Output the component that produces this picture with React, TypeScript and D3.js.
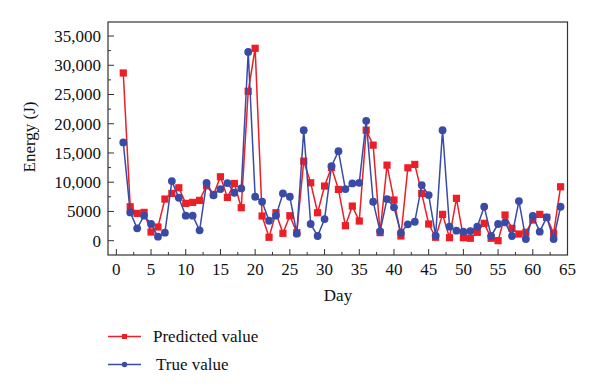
import React from 'react';
import * as d3 from 'd3';

const days = d3.range(1, 65);

const predicted = [
  28680, 5800, 4670, 4840, 1480, 2340, 7120, 8080, 9050, 6380,
  6550, 6890, 9390, 7900, 10930, 7400, 9790, 5640, 25550, 32900,
  4220, 580, 4780, 1260, 4270, 1370, 13600, 9900, 4780, 9340,
  12530, 8770, 2560, 5920, 3360, 18900, 16340, 1370, 12920, 6950,
  800, 12460, 13040, 8090, 2850, 580, 4500, 510, 7240, 510,
  410, 1430, 2970, 410, 0, 4390, 2110, 1140, 1430, 3530,
  4500, 3990, 1260, 9220,
];

const trueValue = [
  16800, 4840, 2110, 4270, 2850, 680, 1370, 10190, 7340, 4270,
  4270, 1770, 9900, 7750, 8830, 9850, 8200, 8940, 32270, 7510,
  6660, 3410, 4270, 8080, 7510, 1200, 18900, 2850, 800, 3700,
  12750, 15310, 8830, 9790, 9900, 20490, 6660, 1600, 7120, 5700,
  1370, 2800, 3240, 9510, 7800, 850, 18900, 2390, 1710, 1540,
  1650, 2390, 5800, 800, 2850, 3140, 800, 6780, 290, 4220,
  1540, 3990, 290, 5800,
];

const xTicks = d3.range(0, 66, 5);
const xMinor = d3.range(2.5, 65, 5);
const yTicks = d3.range(0, 35001, 5000);
const yMinor = d3.range(2500, 37000, 5000);

const RED = '#EC1E26';
const BLUE = '#3A4BA6';
const FONT = '"Liberation Serif", "Times New Roman", serif';

const App = () => {
  const width = 600;
  const height = 392;
  const left = 108, right = 567.5, top = 22, bottom = 255;

  const x = d3.scaleLinear().domain([-1.2, 65]).range([left, right]);
  const y = d3.scaleLinear().domain([-2450, 37400]).range([bottom, top]);

  const line = d3.line<number>()
    .x((_, i) => x(days[i]))
    .y(d => y(d));

  // 5000 is printed without a comma in the original
  const fmt = (v: number) => (v >= 10000 ? d3.format(',')(v) : String(v));

  return (
    <div style={{ position: 'absolute', left: 0, top: 0 }}>
      <svg width={width} height={height} style={{ display: 'block', background: '#fff' }}>
        {/* series: predicted first, true on top */}
        <path d={line(predicted) ?? ''} fill="none" stroke={RED} strokeWidth={1.5} />
        {predicted.map((v, i) => (
          <rect key={'p' + i} x={x(days[i]) - 3.6} y={y(v) - 3.6} width={7.2} height={7.2} fill={RED} />
        ))}
        <path d={line(trueValue) ?? ''} fill="none" stroke={BLUE} strokeWidth={1.5} />
        {trueValue.map((v, i) => (
          <circle key={'t' + i} cx={x(days[i])} cy={y(v)} r={3.9} fill={BLUE} />
        ))}

        {/* frame */}
        <rect x={left} y={top} width={right - left} height={bottom - top} fill="none" stroke="#333" strokeWidth={1.2} />

        {/* y axis */}
        {yTicks.map(t => (
          <g key={'y' + t}>
            <line x1={left} x2={left + 6} y1={y(t)} y2={y(t)} stroke="#333" strokeWidth={1} />
            <text x={left - 7} y={y(t)} dy="0.35em" textAnchor="end" fontFamily={FONT} fontSize={17} fill="#111">
              {fmt(t)}
            </text>
          </g>
        ))}
        {yMinor.map(t => (
          <line key={'ym' + t} x1={left} x2={left + 3} y1={y(t)} y2={y(t)} stroke="#333" strokeWidth={1} />
        ))}

        {/* x axis */}
        {xTicks.map(t => (
          <g key={'x' + t}>
            <line x1={x(t)} x2={x(t)} y1={bottom} y2={bottom - 6} stroke="#333" strokeWidth={1} />
            <text x={x(t)} y={275} textAnchor="middle" fontFamily={FONT} fontSize={17} fill="#111">
              {t}
            </text>
          </g>
        ))}
        {xMinor.map(t => (
          <line key={'xm' + t} x1={x(t)} x2={x(t)} y1={bottom} y2={bottom - 3} stroke="#333" strokeWidth={1} />
        ))}

        <text x={338} y={301} textAnchor="middle" fontFamily={FONT} fontSize={17} fill="#111">Day</text>
        <text transform="translate(35,137) rotate(-90)" textAnchor="middle" fontFamily={FONT} fontSize={17} fill="#111">
          Energy (J)
        </text>

        {/* legend */}
        <g>
          <line x1={108} x2={141} y1={336.5} y2={336.5} stroke={RED} strokeWidth={1.4} />
          <rect x={122} y={334} width={5} height={5} fill={RED} />
          <text x={153} y={342} fontFamily={FONT} fontSize={17} fill="#111">Predicted value</text>
          <line x1={108} x2={141} y1={364.5} y2={364.5} stroke={BLUE} strokeWidth={1.4} />
          <circle cx={124.5} cy={364.5} r={2.7} fill={BLUE} />
          <text x={156} y={370} fontFamily={FONT} fontSize={17} fill="#111">True value</text>
        </g>
      </svg>
    </div>
  );
};

export default App;
